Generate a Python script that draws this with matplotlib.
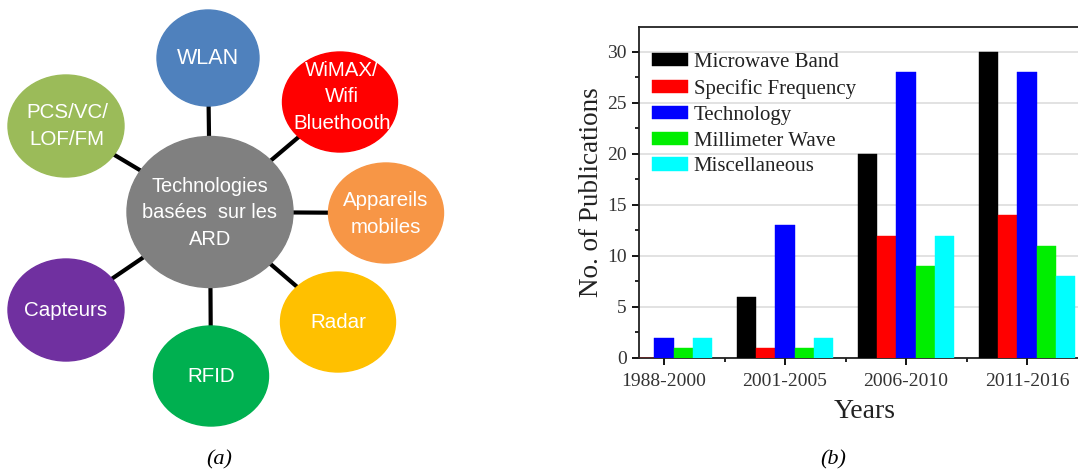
import matplotlib
matplotlib.use("Agg")
import matplotlib.pyplot as plt
from matplotlib.patches import Ellipse
import numpy as np

# ---------------- data ----------------
center_label = "Technologies\nbasées  sur les\nARD"
node_labels = ["WLAN", "WiMAX/\nWifi\nBluethooth", "Appareils\nmobiles", "Radar",
               "RFID", "Capteurs", "PCS/VC/\nLOF/FM"]
node_colors = ["#4F81BD", "#FF0000", "#F79646", "#FFC000", "#00B050", "#7030A0", "#9BBB59"]

years = ["1988-2000", "2001-2005", "2006-2010", "2011-2016"]
series_names = ["Microwave Band", "Specific Frequency", "Technology", "Millimeter Wave", "Miscellaneous"]
microwave = [0, 6, 20, 30]
specific = [0, 1, 12, 14]
technology = [2, 13, 28, 28]
millimeter = [1, 1, 9, 11]
misc = [2, 2, 12, 8]
series_colors = ["#000000", "#FF0000", "#0000FF", "#00EE00", "#00FFFF"]

# ---------------- layout (pixel positions of diagram) ----------------
W, H = 1078, 472
center_xy = (210, 212)
center_wh = (166, 151)
node_xy = [(208, 58), (340, 102), (386, 213), (338, 322), (211, 376), (66, 310), (66, 126)]
node_wh = [(102, 96), (115, 100), (115, 100), (115, 100), (115, 100), (116, 102), (116, 102)]
text_xy = [(208, 58), (342, 97), (386, 214), (338, 323), (211, 377), (66, 311), (67, 126)]
text_size = [15.5, 14.8, 14.8, 14.8, 14.8, 14.8, 14.8]

fig = plt.figure(figsize=(W / 100, H / 100), dpi=100)

# ---------------- (a) diagram ----------------
ax0 = fig.add_axes([0, 0, 1, 1])
ax0.set_xlim(0, W)
ax0.set_ylim(H, 0)
ax0.axis("off")

for (x, y) in node_xy:
    ax0.plot([center_xy[0], x], [center_xy[1], y], color="black", lw=3, zorder=1,
             solid_capstyle="butt")

ax0.add_patch(Ellipse(center_xy, center_wh[0], center_wh[1], color="#808080", zorder=2))
ax0.text(center_xy[0], center_xy[1] + 1, center_label, ha="center", va="center",
         color="white", fontsize=14.4, family="Liberation Sans", linespacing=1.5, zorder=3)

for lab, col, (x, y), (w, h), (tx, ty), fs in zip(node_labels, node_colors, node_xy, node_wh,
                                                  text_xy, text_size):
    ax0.add_patch(Ellipse((x, y), w, h, color=col, zorder=2))
    ax0.text(tx, ty, lab, ha="center", va="center", color="white", fontsize=fs,
             family="Liberation Sans", linespacing=1.5, zorder=3)

ax0.text(219, 460, "(a)", ha="center", va="center", fontsize=16, style="italic",
         family="Liberation Serif")
ax0.text(833, 460, "(b)", ha="center", va="center", fontsize=16, style="italic",
         family="Liberation Serif")

# ---------------- (b) bar chart ----------------
left_px, right_px, top_px, bottom_px = 639, 1090, 27, 358
ax = fig.add_axes([left_px / W, (H - bottom_px) / H, (right_px - left_px) / W,
                   (bottom_px - top_px) / H])

x = np.arange(len(years))
bw = 0.16
all_series = [microwave, specific, technology, millimeter, misc]
for i, (vals, name, col) in enumerate(zip(all_series, series_names, series_colors)):
    ax.bar(x + (i - 2) * bw, vals, width=bw, color=col, label=name, zorder=3,
           edgecolor=col, linewidth=0.3)

ax.set_xlim(-0.207, 3.52)
ax.set_ylim(0, 32.45)
ax.set_yticks([0, 5, 10, 15, 20, 25, 30])
ax.set_yticks(np.arange(2.5, 32, 5), minor=True)
ax.set_xticks(x)
ax.set_xticklabels(years)
ax.set_xticks([0.5, 1.5, 2.5], minor=True)
ax.yaxis.grid(True, color="#dddddd", lw=1.2, zorder=0)

for lab in ax.get_xticklabels() + ax.get_yticklabels():
    lab.set_fontfamily("Liberation Serif")
    lab.set_fontsize(14)
    lab.set_color("#333333")
ax.tick_params(axis="both", which="major", direction="out", length=5, width=1.3)
ax.tick_params(axis="both", which="minor", direction="out", length=3, width=1.2)
ax.tick_params(axis="x", which="major", pad=6)
ax.tick_params(axis="y", which="major", pad=4)

for s in ["left", "bottom", "top"]:
    ax.spines[s].set_linewidth(1.3)
    ax.spines[s].set_color("#222222")
ax.spines["right"].set_visible(False)

ax.set_ylabel("No. of Publications", family="Liberation Serif", fontsize=19.5,
              color="#222222", labelpad=2)
ax.set_xlabel("Years", family="Liberation Serif", fontsize=20, color="#222222", labelpad=6)

leg = ax.legend(loc="upper left", bbox_to_anchor=((652 - left_px) / (right_px - left_px),
                                                  1 - (53 - top_px) / (bottom_px - top_px)),
                frameon=False, borderpad=0, borderaxespad=0, handlelength=1.75,
                handleheight=0.6, handletextpad=0.25, labelspacing=0.33,
                prop=dict(family="Liberation Serif", size=15))
for t in leg.get_texts():
    t.set_color("#222222")

fig.savefig("out.png", dpi=100)
